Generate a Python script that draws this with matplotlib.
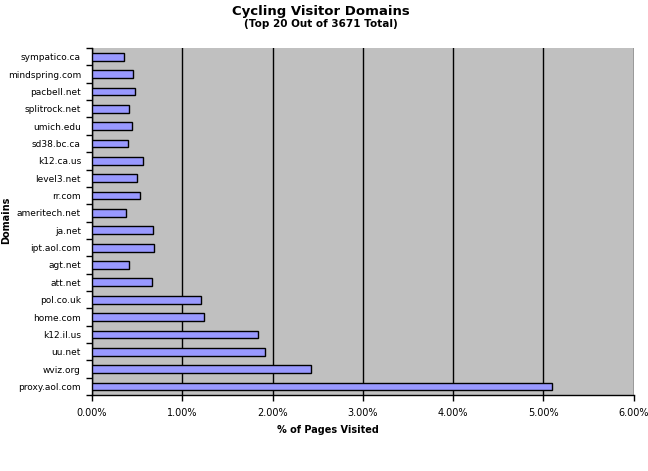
import matplotlib.pyplot as plt
from matplotlib.ticker import FuncFormatter, FixedLocator

domains = ["proxy.aol.com", "wviz.org", "uu.net", "k12.il.us", "home.com",
           "pol.co.uk", "att.net", "agt.net", "ipt.aol.com", "ja.net",
           "ameritech.net", "rr.com", "level3.net", "k12.ca.us", "sd38.bc.ca",
           "umich.edu", "splitrock.net", "pacbell.net", "mindspring.com",
           "sympatico.ca"]
percent = [5.10, 2.42, 1.92, 1.84, 1.244, 1.21, 0.668, 0.413, 0.69, 0.68,
           0.38, 0.535, 0.50, 0.568, 0.402, 0.447, 0.413, 0.48, 0.457, 0.358]

fig = plt.figure(figsize=(6.48, 4.71), dpi=100)
ax = fig.add_axes([0.142, 0.161, 0.836, 0.737])
ax.set_facecolor("#c0c0c0")

pos = list(range(len(domains)))
ax.barh(pos, percent, height=0.45, color="#9999ff", edgecolor="black", linewidth=1, zorder=3)

ax.set_xlim(0, 6)
ax.set_ylim(-0.5, len(domains) - 0.5)
ax.set_xticks([0, 1, 2, 3, 4, 5, 6])
ax.xaxis.set_major_formatter(FuncFormatter(lambda v, p: f"{v:.2f}%"))
ax.set_yticks(pos)
ax.set_yticklabels(domains)
ax.yaxis.set_minor_locator(FixedLocator([i - 0.5 for i in range(len(domains) + 1)]))
ax.tick_params(axis="y", which="major", length=0, labelsize=6.5, pad=8)
ax.tick_params(axis="y", which="minor", length=4, width=1, direction="out")
ax.tick_params(axis="x", length=4, width=1, labelsize=7, direction="out", pad=5)

ax.grid(axis="x", color="black", linewidth=1, zorder=1)
ax.set_axisbelow(True)
for s in ["top", "right"]:
    ax.spines[s].set_visible(False)
ax.spines["left"].set_linewidth(1)
ax.spines["bottom"].set_linewidth(1)

ax.set_xlabel("% of Pages Visited", fontsize=7, fontweight="bold")
ax.xaxis.set_label_coords(0.435, -0.085)
fig.text(6 / 648, 1 - 220 / 471, "Domains", rotation=90, ha="center", va="center",
         fontsize=7, fontweight="bold")
fig.text(321 / 648, 1 - 11 / 471, "Cycling Visitor Domains", ha="center", va="center",
         fontsize=9.5, fontweight="bold")
fig.text(321 / 648, 1 - 24 / 471, "(Top 20 Out of 3671 Total)", ha="center", va="center",
         fontsize=7.5, fontweight="bold")

fig.savefig("out.png", dpi=100)
